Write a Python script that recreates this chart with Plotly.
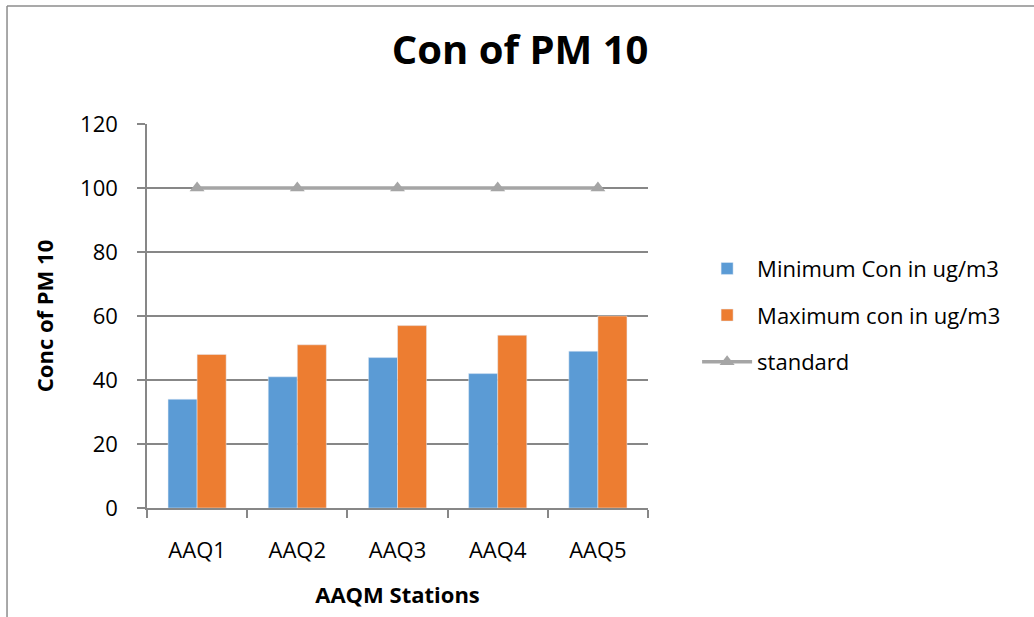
import plotly.graph_objects as go

stations = ["AAQ1", "AAQ2", "AAQ3", "AAQ4", "AAQ5"]
min_con = [34, 41, 47, 42, 49]
max_con = [48, 51, 57, 54, 60]
standard = [100, 100, 100, 100, 100]
y_ticks = [0, 20, 40, 60, 80, 100, 120]

FONT = "Open Sans"
GRID = "#878787"

fig = go.Figure()
fig.add_trace(go.Bar(x=stations, y=min_con, name="Minimum Con in ug/m3",
                     marker_color="#5B9BD5", legendgroup="a"))
fig.add_trace(go.Bar(x=stations, y=max_con, name="Maximum con in ug/m3",
                     marker_color="#ED7D31", legendgroup="b"))
fig.add_trace(go.Scatter(x=stations, y=standard, name="standard", mode="lines+markers",
                         line=dict(color="#A5A5A5", width=3.5),
                         marker=dict(symbol="triangle-up", size=13, color="#A5A5A5"),
                         legendgroup="c"))

# outer chart frame (top and left edges)
frame = dict(type="line", xref="paper", yref="paper", line=dict(color="#8C8C8C", width=1.5))
fig.add_shape(x0=-0.2794, y0=1.307, x1=2.2, y1=1.307, **frame)
fig.add_shape(x0=-0.2794, y0=1.307, x1=-0.2794, y1=-0.5, **frame)

fig.update_layout(
    width=1034, height=617,
    margin=dict(l=147, r=386, t=124, b=109),
    paper_bgcolor="white", plot_bgcolor="white",
    font=dict(family=FONT, size=22, color="#000000"),
    title=dict(text="<b>Con of PM 10</b>", x=0.503, xref="container", xanchor="center",
               y=1 - 50 / 617, yref="container", yanchor="middle",
               font=dict(family=FONT, size=40, color="#000000")),
    barmode="group", bargap=0.42, bargroupgap=0,
    showlegend=True,
    legend=dict(x=1.098, xanchor="left", y=0.678, yanchor="top",
                font=dict(family=FONT, size=22, color="#000000"),
                itemwidth=50, tracegroupgap=15, bgcolor="rgba(0,0,0,0)"),
    xaxis=dict(
        type="category", tickson="boundaries", ticks="outside", ticklen=8,
        tickwidth=2, tickcolor=GRID, showline=True, linecolor=GRID, linewidth=2,
        showgrid=False, ticklabelstandoff=22,
        tickfont=dict(family=FONT, size=22),
        title=dict(text="<b>AAQM Stations</b>", standoff=24,
                   font=dict(family=FONT, size=22)),
    ),
    yaxis=dict(
        range=[0, 120], tickvals=y_ticks, ticks="outside", ticklen=8, tickwidth=1.5,
        tickcolor=GRID, showline=True, linecolor=GRID, linewidth=1.5,
        showgrid=True, gridcolor=GRID, gridwidth=2, zeroline=False,
        ticklabelstandoff=15,
        tickfont=dict(family=FONT, size=22),
        title=dict(text="<b>Conc of PM 10</b>", standoff=20,
                   font=dict(family=FONT, size=22)),
    ),
)

fig.write_html("out.html")
